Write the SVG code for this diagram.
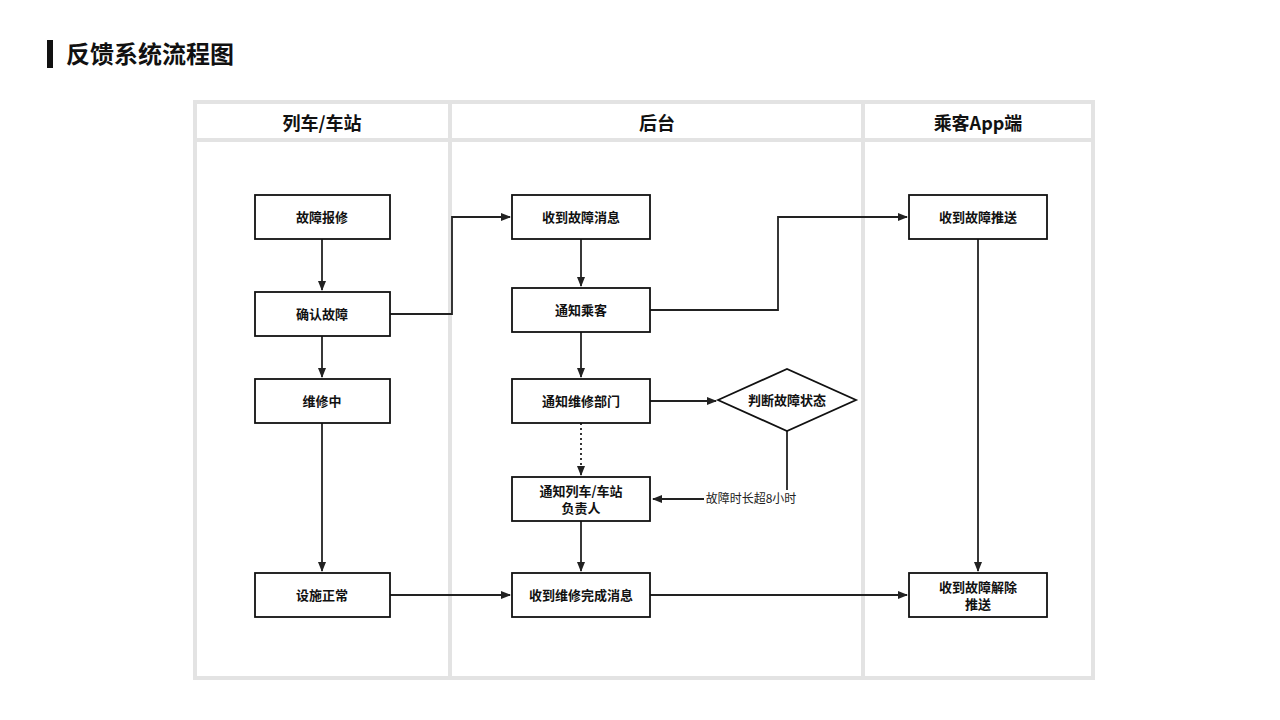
<svg xmlns="http://www.w3.org/2000/svg" width="1280" height="720" viewBox="0 0 1280 720">
<defs>
<marker id="ar" markerWidth="10" markerHeight="8" refX="9" refY="4" orient="auto" markerUnits="userSpaceOnUse"><path d="M0,0 L10,4 L0,8 Z" fill="#222"/></marker>
<style>
.t{font-family:"Noto Sans CJK SC","Liberation Sans",sans-serif;font-weight:bold;fill:#111}
.n rect,.n path{fill:#fff;stroke:#111;stroke-width:1.8}
.n text{font-family:"Noto Sans CJK SC",sans-serif;font-size:13px;font-weight:bold;fill:#111;text-anchor:middle}
.c path{fill:none;stroke:#222;stroke-width:1.8;marker-end:url(#ar)}
.lane{fill:none;stroke:#e3e3e3;stroke-width:4}
</style>
</defs>
<rect width="1280" height="720" fill="#fff"/>
<rect x="47" y="40" width="6" height="28" fill="#111"/>
<text class="t" x="66" y="63" font-size="24">反馈系统流程图</text>
<g id="lanes">
<rect class="lane" x="195" y="102" width="898" height="576"/>
<line class="lane" x1="195" y1="140" x2="1093" y2="140"/>
<line class="lane" x1="450" y1="102" x2="450" y2="678"/>
<line class="lane" x1="863" y1="102" x2="863" y2="678"/>
<text class="t" x="322" y="130" font-size="18" text-anchor="middle">列车/车站</text>
<text class="t" x="657" y="130" font-size="18" text-anchor="middle">后台</text>
<text class="t" x="978" y="130" font-size="18" text-anchor="middle">乘客App端</text>
</g>
<g class="c" id="connectors">
<path d="M322,239 V290"/>
<path d="M322,336 V377"/>
<path d="M322,423 V571"/>
<path d="M390,314 H452 V217 H510"/>
<path d="M581,239 V286"/>
<path d="M650,310 H778 V217 H907"/>
<path d="M581,332 V377"/>
<path d="M650,401 H716"/>
<path d="M581,423 V475" stroke-dasharray="2,3"/>
<path d="M787,431 V490" marker-end="none" style="marker-end:none"/>
<path d="M704,499 H653"/>
<path d="M581,521 V571"/>
<path d="M390,595 H510"/>
<path d="M650,595 H907"/>
<path d="M978,239 V571"/>
</g>
<text x="751" y="503" font-family="Noto Sans CJK SC,sans-serif" font-size="12" fill="#222" text-anchor="middle">故障时长超8小时</text>
<g class="n" id="n1"><rect x="255" y="195" width="135" height="44"/><text x="322" y="222">故障报修</text></g>
<g class="n" id="n2"><rect x="255" y="292" width="135" height="44"/><text x="322" y="319">确认故障</text></g>
<g class="n" id="n3"><rect x="255" y="379" width="135" height="44"/><text x="322" y="406">维修中</text></g>
<g class="n" id="n4"><rect x="255" y="573" width="135" height="44"/><text x="322" y="600">设施正常</text></g>
<g class="n" id="m1"><rect x="512" y="195" width="138" height="44"/><text x="581" y="222">收到故障消息</text></g>
<g class="n" id="m2"><rect x="512" y="288" width="138" height="44"/><text x="581" y="315">通知乘客</text></g>
<g class="n" id="m3"><rect x="512" y="379" width="138" height="44"/><text x="581" y="406">通知维修部门</text></g>
<g class="n" id="m4"><rect x="512" y="477" width="138" height="44"/><text x="581" y="496">通知列车/车站</text><text x="581" y="513">负责人</text></g>
<g class="n" id="m5"><rect x="512" y="573" width="138" height="44"/><text x="581" y="600">收到维修完成消息</text></g>
<g class="n" id="d1"><path d="M718,400 L787,369 L856,400 L787,431 Z"/><text x="787" y="405">判断故障状态</text></g>
<g class="n" id="r1"><rect x="909" y="195" width="138" height="44"/><text x="978" y="222">收到故障推送</text></g>
<g class="n" id="r2"><rect x="909" y="573" width="138" height="44"/><text x="978" y="592">收到故障解除</text><text x="978" y="609">推送</text></g>
</svg>
